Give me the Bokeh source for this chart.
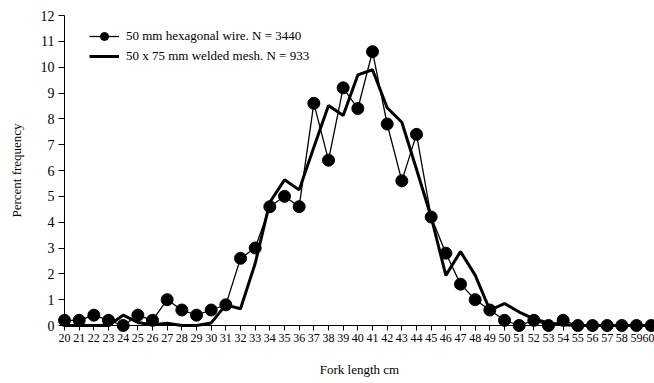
from bokeh.plotting import figure
from bokeh.models import Range1d, FixedTicker, Legend, LegendItem
from bokeh.embed import file_html
from bokeh.resources import INLINE

lengths = list(range(20, 61))
hexagonal = [0.2, 0.2, 0.4, 0.2, 0.0, 0.4, 0.2, 1.0, 0.6, 0.4,
             0.6, 0.8, 2.6, 3.0, 4.6, 5.0, 4.6, 8.6, 6.4, 9.2,
             8.4, 10.6, 7.8, 5.6, 7.4, 4.2, 2.8, 1.6, 1.0, 0.6,
             0.2, 0.0, 0.2, 0.0, 0.2, 0.0, 0.0, 0.0, 0.0, 0.0, 0.0]
welded = [0.0, 0.0, 0.0, 0.0, 0.4, 0.12, 0.03, 0.09, 0.0, 0.0,
          0.1, 0.8, 0.65, 2.4, 4.77, 5.64, 5.25, 6.9, 8.52, 8.13,
          9.7, 9.9, 8.43, 7.87, 6.05, 4.2, 1.94, 2.86, 1.95, 0.6,
          0.85, 0.52, 0.26, 0.09, 0.03, 0.0, 0.0, 0.0, 0.0, 0.0, 0.0]
x_ticks = list(range(20, 61))
y_ticks = list(range(0, 13))
hex_label = "50 mm hexagonal wire. N = 3440"
welded_label = "50 x 75 mm welded mesh. N = 933"

FONT = "Liberation Serif"

p = figure(width=654, height=383, output_backend="svg", toolbar_location=None,
           x_range=Range1d(15.636, 60.227), y_range=Range1d(-2.245, 12.581),
           min_border_left=0, min_border_right=0, min_border_top=0,
           min_border_bottom=0)
p.outline_line_color = None
p.grid.visible = False
p.background_fill_color = "white"

r_w = p.line(lengths, welded, line_color="black", line_width=3)
r_hl = p.line(lengths, hexagonal, line_color="black", line_width=1.3)
r_hm = p.scatter(lengths, hexagonal, size=12, marker="circle",
                 fill_color="black", line_color="black")

xa = p.xaxis[0]
xa.fixed_location = 0
xa.bounds = (20, 61)
xa.ticker = FixedTicker(ticks=x_ticks)
xa.minor_tick_line_color = None
xa.major_tick_in = 0
xa.major_tick_out = 5
xa.major_label_standoff = 3
xa.major_label_text_font = FONT
xa.major_label_text_font_size = "12px"
xa.major_label_text_color = "black"
xa.axis_line_color = "black"
xa.major_tick_line_color = "black"
xa.axis_label = "Fork length cm"
xa.axis_label_text_font = FONT
xa.axis_label_text_font_size = "13px"
xa.axis_label_text_font_style = "normal"
xa.axis_label_text_color = "black"
xa.axis_label_standoff = 17

ya = p.yaxis[0]
ya.fixed_location = 20
ya.bounds = (0, 12)
ya.ticker = FixedTicker(ticks=y_ticks)
ya.minor_tick_line_color = None
ya.major_tick_in = 0
ya.major_tick_out = 6
ya.major_label_standoff = 4
ya.major_label_text_font = FONT
ya.major_label_text_font_size = "14px"
ya.major_label_text_color = "black"
ya.axis_line_color = "black"
ya.major_tick_line_color = "black"
ya.axis_label = "Percent frequency"
ya.axis_label_text_font = FONT
ya.axis_label_text_font_size = "13px"
ya.axis_label_text_font_style = "normal"
ya.axis_label_text_color = "black"
ya.axis_label_standoff = 14

legend = Legend(items=[LegendItem(label=hex_label, renderers=[r_hl, r_hm]),
                       LegendItem(label=welded_label, renderers=[r_w])],
                location=(89, 317), border_line_color=None,
                background_fill_alpha=0, label_text_font=FONT,
                label_text_font_size="13px", label_text_color="black",
                label_standoff=7, glyph_width=30, glyph_height=20,
                label_height=20, spacing=0, padding=0, margin=0)
p.add_layout(legend)

open("out.html", "w").write(file_html(p, INLINE))
